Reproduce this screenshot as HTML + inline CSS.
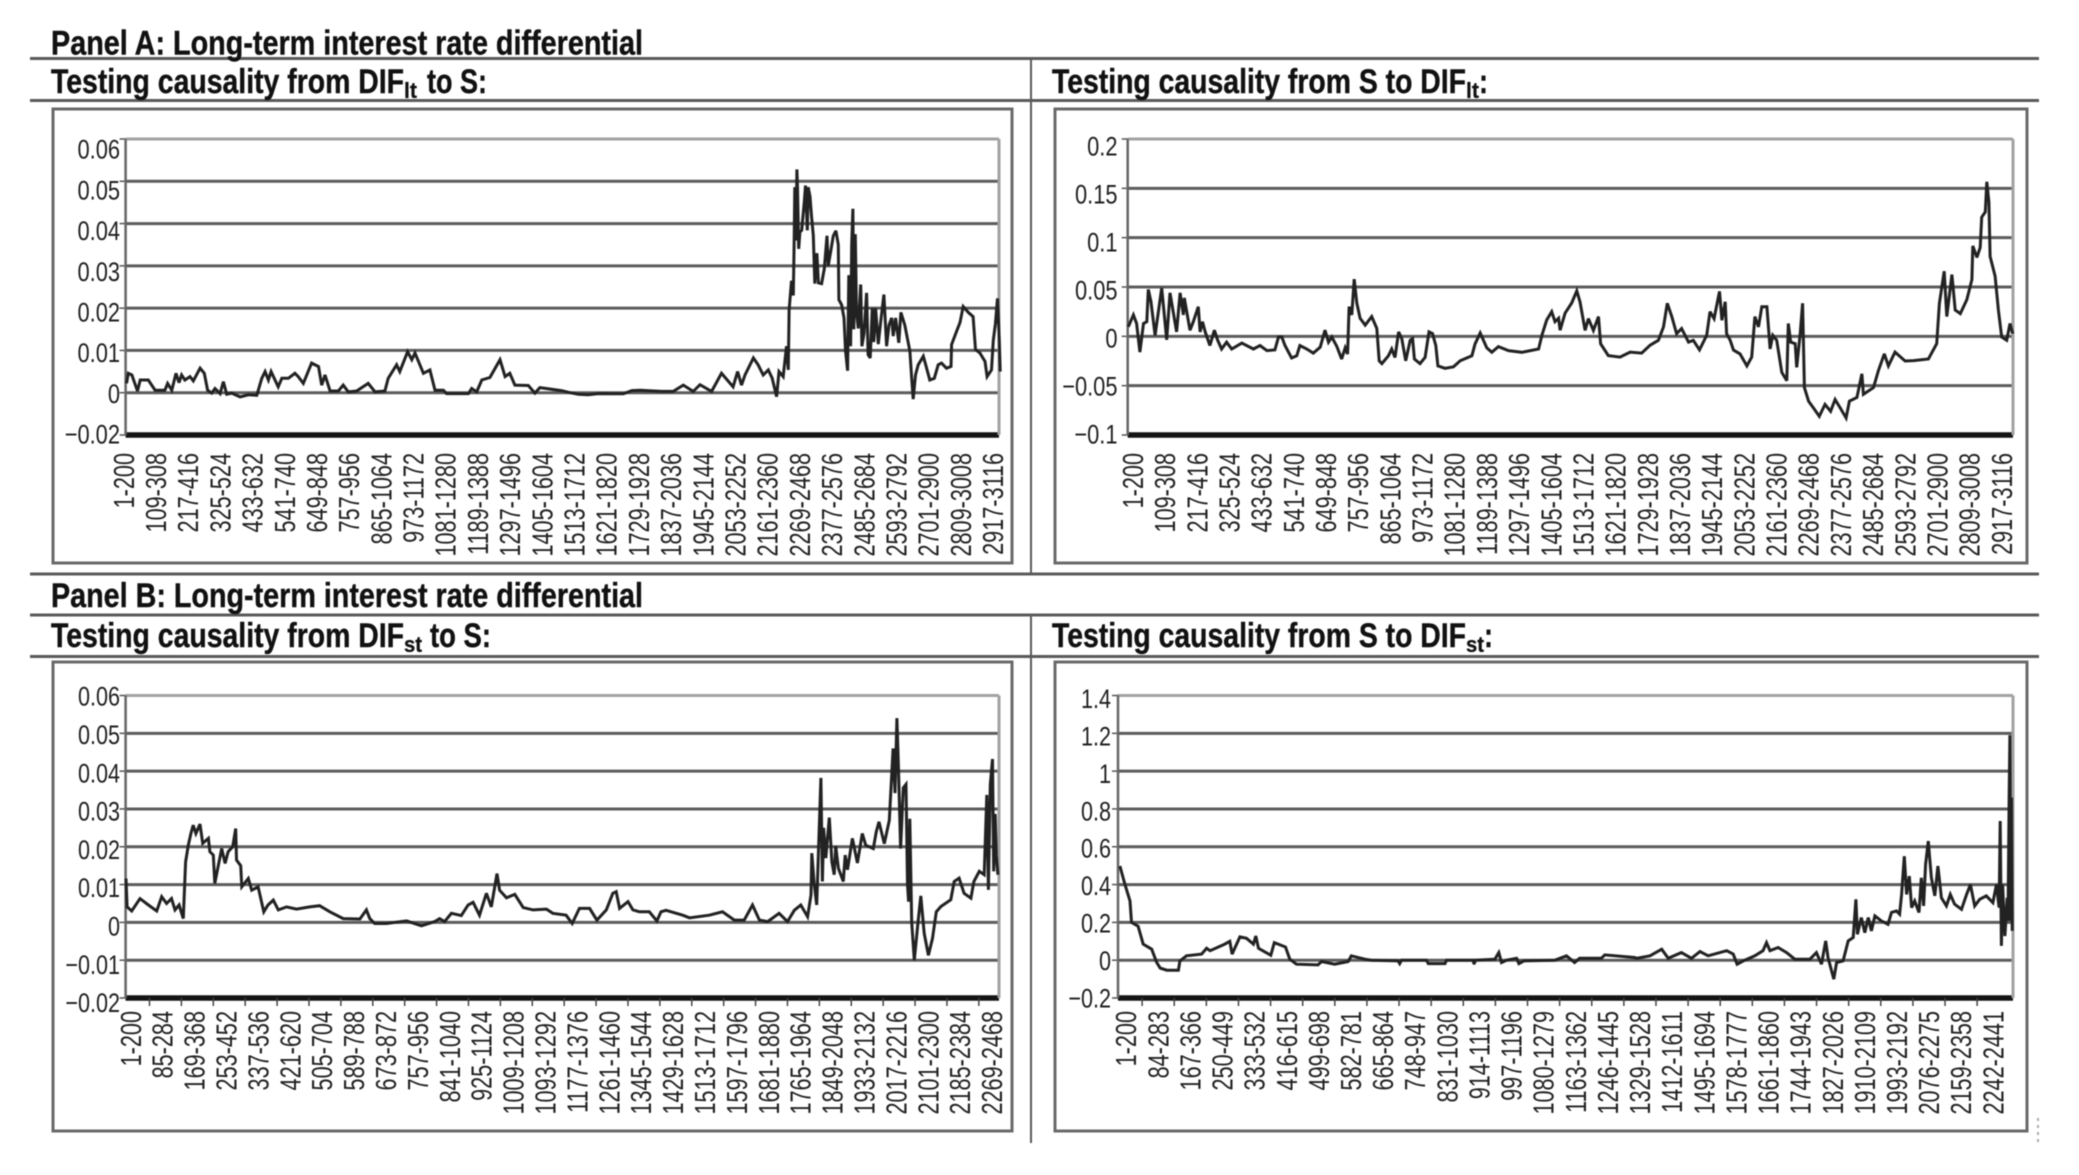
<!DOCTYPE html>
<html lang="en">
<head>
<meta charset="utf-8">
<title>Testing causality charts</title>
<style>
html,body{margin:0;padding:0;background:#fff;width:2079px;height:1175px;overflow:hidden}
svg{display:block;filter:blur(0.5px)}
.ttl{font-family:"Liberation Sans",sans-serif;font-weight:700;font-size:34px;fill:#111;stroke:#111;stroke-width:.4}
.sub{font-family:"Liberation Sans",sans-serif;font-weight:700;font-size:22px;fill:#111;stroke:#111;stroke-width:.3}
.ytick{font-family:"Liberation Sans",sans-serif;fill:#1f1f1f}
.xtick{font-family:"Liberation Sans",sans-serif;font-size:28.5px;fill:#222}
</style>
</head>
<body>
<svg id="figure" xmlns="http://www.w3.org/2000/svg" width="2079" height="1175" viewBox="0 0 2079 1175">
  <rect x="0" y="0" width="2079" height="1175" fill="#fff"/>

  <g stroke="#5a5a5a" stroke-width="3" fill="none">
    <line x1="30" y1="58.5" x2="2039" y2="58.5"/>
    <line x1="30" y1="100.5" x2="2039" y2="100.5"/>
    <line x1="30" y1="574" x2="2039" y2="574"/>
    <line x1="30" y1="615" x2="2039" y2="615"/>
    <line x1="30" y1="656.5" x2="2039" y2="656.5"/>
    <line x1="1031" y1="58" x2="1031" y2="574" stroke-width="2"/>
    <line x1="1031" y1="615" x2="1031" y2="1143" stroke-width="2"/>
    <line x1="2038" y1="1118" x2="2038" y2="1142" stroke="#aaa" stroke-width="2" stroke-dasharray="3 4"/>
  </g>

  <text class="ttl" x="51" y="54.5" textLength="592" lengthAdjust="spacingAndGlyphs">Panel A: Long-term interest rate differential</text>
  <text class="ttl" x="51" y="607" textLength="592" lengthAdjust="spacingAndGlyphs">Panel B: Long-term interest rate differential</text>

  <g>
    <text class="ttl" x="51" y="93" textLength="353" lengthAdjust="spacingAndGlyphs">Testing causality from DIF</text>
    <text class="sub" x="404" y="98" textLength="13" lengthAdjust="spacingAndGlyphs">lt</text>
    <text class="ttl" x="427" y="93" textLength="60" lengthAdjust="spacingAndGlyphs">to S:</text>
  </g>
  <g>
    <text class="ttl" x="1052" y="93" textLength="414" lengthAdjust="spacingAndGlyphs">Testing causality from S to DIF</text>
    <text class="sub" x="1466" y="98" textLength="13" lengthAdjust="spacingAndGlyphs">lt</text>
    <text class="ttl" x="1479" y="93" textLength="9" lengthAdjust="spacingAndGlyphs">:</text>
  </g>
  <g>
    <text class="ttl" x="51" y="647" textLength="353" lengthAdjust="spacingAndGlyphs">Testing causality from DIF</text>
    <text class="sub" x="404" y="652" textLength="18" lengthAdjust="spacingAndGlyphs">st</text>
    <text class="ttl" x="430" y="647" textLength="61" lengthAdjust="spacingAndGlyphs">to S:</text>
  </g>
  <g>
    <text class="ttl" x="1052" y="647" textLength="414" lengthAdjust="spacingAndGlyphs">Testing causality from S to DIF</text>
    <text class="sub" x="1466" y="652" textLength="18" lengthAdjust="spacingAndGlyphs">st</text>
    <text class="ttl" x="1484" y="647" textLength="9" lengthAdjust="spacingAndGlyphs">:</text>
  </g>

  <g id="charts"></g>
</svg>

<script>
// ---- Chart A left: DIF_lt to S ----
const aLeftCategories = ["1-200","109-308","217-416","325-524","433-632","541-740","649-848","757-956","865-1064","973-1172","1081-1280","1189-1388","1297-1496","1405-1604","1513-1712","1621-1820","1729-1928","1837-2036","1945-2144","2053-2252","2161-2360","2269-2468","2377-2576","2485-2684","2593-2792","2701-2900","2809-3008","2917-3116"];
const aLeftCategoryStarts = [1,109,217,325,433,541,649,757,865,973,1081,1189,1297,1405,1513,1621,1729,1837,1945,2053,2161,2269,2377,2485,2593,2701,2809,2917];
const aLeftTickValues = [-0.02,0,0.01,0.02,0.03,0.04,0.05,0.06];
const aLeftTickLabels = ["\u22120.02","0","0.01","0.02","0.03","0.04","0.05","0.06"];
const aLeftObs = [4,10,22,30,41,50,77,100,133,142,156,170,180,189,200,217,228,251,265,276,290,301,318,329,340,357,385,413,441,458,469,480,489,513,525,547,569,580,597,625,648,659,670,687,715,731,748,776,815,838,871,882,910,921,947,961,972,1000,1022,1039,1067,1078,1151,1162,1179,1196,1223,1257,1274,1290,1307,1352,1374,1391,1463,1492,1520,1553,1587,1643,1671,1699,1727,
1799,1838,1872,1905,1928,1967,2000,2039,2054,2067,2079,2107,2123,2140,2157,2170,2185,2193,2207,2218,2224,2227,2235,2241,2244,2246,2250,2253,2255,2259,2263,2269,2278,2282,2288,2291,2297,2302,2308,
2313,2320,2325,2336,2345,2354,2358,2367,2375,2384,2392,2394,2403,2411,2416,2423,2427,2433,2437,2441,2444,2449,2453,2459,2467,2471,2478,2487,2492,2499,2506,2511,2517,2526,2534,2545,2554,2562,2571,2576,2584,2595,2602,2615,2626,2632,2638,2643,2651,2660,2677,2685,2699,2714,2727,2738,2755,2770,2772,2789,2800,2811,2828,2844,2852,2867,2884,2891,2906,2912,2919,2926,2932,2935];
const aLeftValues = [.0022,.0046,.0042,.0026,.0004,.003,.003,.0006,.0006,.0022,.0006,.0046,.0024,.0042,.003,.0038,.0028,.0058,.0046,.0006,-.0002,.001,-.0004,.0026,-.0007,-.0002,-.002,-.001,-.0012,.0034,.005,.003,.005,.0014,.0034,.0034,.0046,.0038,.0022,.007,.0062,.0018,.0042,.0004,.0004,.0018,.0002,.0004,.0022,.0002,.0004,.0034,.0066,.005,.0097,.0078,.0094,.0046,.0054,.0006,.0006,-.0004,-.0004,.001,.0002,.003,.0036,.0078,.0038,.0046,.0018,.0017,-.0002,.0012,.0005,0,-.0007,-.001,-.0004,-.0005,-.0005,.0005,.0006,
.0003,.0003,.0018,.0003,.0019,.0003,.0046,.0014,.005,.0018,.0042,.0082,.0066,.0042,.0054,.0034,-.0019,.005,.0038,.011,.0054,.0195,.0265,.023,.0365,.0486,.036,.0528,.0486,.034,.038,.0384,.0452,.049,.0384,.0486,.0464,.0418,.0372,
.0258,.033,.026,.0258,.0293,.0371,.03,.0337,.0371,.0383,.035,.022,.0208,.0177,.01,.0052,.0278,.011,.035,.0435,.015,.0375,.019,.0152,.0256,.011,.014,.0236,.009,.0082,.02,.012,.02,.0115,.0168,.0232,.011,.016,.0177,.0134,.0177,.0118,.019,.016,.012,.0098,.0034,-.003,.0042,.0066,.0086,.0066,.003,.0034,.0066,.007,.0058,.0062,.0114,.0146,.0166,.0204,.019,.018,.0102,.0094,.0074,.0038,.0054,.0124,.0163,.0223,.0124,.005];

// ---- Chart A right: S to DIF_lt ----
const aRightCategories = ["1-200","109-308","217-416","325-524","433-632","541-740","649-848","757-956","865-1064","973-1172","1081-1280","1189-1388","1297-1496","1405-1604","1513-1712","1621-1820","1729-1928","1837-2036","1945-2144","2053-2252","2161-2360","2269-2468","2377-2576","2485-2684","2593-2792","2701-2900","2809-3008","2917-3116"];
const aRightCategoryStarts = [1,109,217,325,433,541,649,757,865,973,1081,1189,1297,1405,1513,1621,1729,1837,1945,2053,2161,2269,2377,2485,2593,2701,2809,2917];
const aRightTickValues = [-0.1,-0.05,0,0.05,0.1,0.15,0.2];
const aRightTickLabels = ["\u22120.1","\u22120.05","0","0.05","0.1","0.15","0.2"];
const aRightObs = [3,20,31,42,54,65,70,79,93,115,132,143,165,177,188,191,210,221,238,244,252,261,277,292,303,316,333,350,384,423,445,468,495,507,518,529,551,568,579,602,624,647,663,675,686,703,719,731,739,744,753,761,770,781,798,820,837,845,854,876,887,898,910,921,934,949,957,963,982,999,1012,1024,1035,1042,1066,1094,1117,1156,1167,1184,1206,1223,1245,1279,1324,1380,1391,1407,1424,1435,1447,1452,1469,1491,1508,1519,
1536,1547,1564,1581,1588,1614,1653,1687,1726,1754,1782,1799,1812,1827,1843,1860,1883,1899,1920,1944,1955,1969,1987,1995,2006,2011,2023,2034,2056,2079,2095,2106,2118,2129,2146,2157,2166,2179,2196,2213,2218,2226,2241,2246,2258,2266,2272,2286,2302,2322,2341,2360,2375,2392,2412,2423,2448,2465,2470,2504,2520,2540,2554,2576,2610,2638,2688,2716,2725,2741,2750,2767,2778,2795,2817,2834,2837,2851,2862,2867,2879,2884,2891,2895,2912,2923,2934,2951,2962,2971];
const aRightValues = [.0097,.0217,.013,-.016,.013,.0148,.0476,.0355,.001,.049,-.0035,.044,.0045,.044,.0217,.039,.0062,.0148,.03,.0045,.0148,.0045,-.0093,.0062,-.004,-.0128,-.0059,-.0128,-.0069,-.0128,-.0093,-.0145,-.0138,-.0007,-.0007,-.0093,-.022,-.0197,-.0093,-.0128,-.017,-.011,.0062,-.0059,-.0007,-.0104,-.023,-.0117,-.018,.03,.0217,.058,.0338,.0183,.0114,.02,.008,-.0248,-.0276,-.0197,-.0128,-.0214,.0045,-.0024,-.0248,-.004,-.0024,-.023,-.0276,-.0214,.0045,.0028,-.0093,-.03,-.0324,-.031,-.0248,-.0197,-.0076,.0034,-.0117,-.0162,-.0104,-.0145,-.0162,-.0128,.001,.0166,.025,.0148,.0183,.0062,.0235,.0338,.046,.035,
.006,.018,.006,.02,-.0075,-.0195,-.021,-.016,-.017,-.009,-.004,.0096,.0335,.02,.0027,.0079,-.0058,-.004,-.0137,.001,.025,.018,.0455,.0164,.035,.0027,-.004,-.014,-.0178,-.03,-.021,.02,.0096,.03,.03,-.0127,.001,-.004,-.0366,-.045,.013,-.0058,-.0075,-.0315,.0027,.0335,-.052,-.0657,-.0725,-.081,-.069,-.076,-.064,-.0725,-.0828,-.0657,-.062,-.038,-.0588,-.052,-.035,-.0178,-.03,-.016,-.025,-.0246,-.023,-.0075,.0335,.066,.02,.0626,.0267,.023,.037,.0575,.0917,.08,.09,.1207,.126,.1566,.136,.081,.061,.0267,-.0007,-.004,.013,.0027];

// ---- Chart B left: DIF_st to S ----
const bLeftCategories = ["1-200","85-284","169-368","253-452","337-536","421-620","505-704","589-788","673-872","757-956","841-1040","925-1124","1009-1208","1093-1292","1177-1376","1261-1460","1345-1544","1429-1628","1513-1712","1597-1796","1681-1880","1765-1964","1849-2048","1933-2132","2017-2216","2101-2300","2185-2384","2269-2468"];
const bLeftCategoryStarts = [1,85,169,253,337,421,505,589,673,757,841,925,1009,1093,1177,1261,1345,1429,1513,1597,1681,1765,1849,1933,2017,2101,2185,2269];
const bLeftTickValues = [-0.02,-0.01,0,0.01,0.02,0.03,0.04,0.05,0.06];
const bLeftTickLabels = ["\u22120.02","\u22120.01","0","0.01","0.02","0.03","0.04","0.05","0.06"];
const bLeftObs = [2,5,17,39,61,83,96,109,122,131,142,153,155,159,166,173,179,186,197,204,219,223,232,236,242,254,263,271,283,291,293,304,307,324,333,350,365,376,390,403,425,451,486,512,539,574,618,635,644,657,688,741,780,815,828,841,859,885,903,916,933,951,964,979,986,1004,1026,1048,1074,1109,1126,1161,1177,1196,1223,1242,1267,1284,1293,1302,1324,1337,
1354,1380,1400,1411,1424,1468,1486,1538,1573,1604,1630,1652,1670,1692,1722,1744,1762,1779,1797,1806,1808,1814,1821,1832,1836,1839,1845,1854,1861,1867,1871,1878,1891,1896,1902,1915,1928,1941,1950,1970,1978,1985,1999,2012,2016,2022,2027,2032,2036,2042,2049,2056,2060,2063,2066,2071,2078,2086,2095,2104,2115,2126,2136,2148,2174,2183,2196,2209,2227,2235,2249,2262,2269,2273,2278,2284,2287,2291,2294,2298];
const bLeftValues = [.0116,.0041,.003,.0063,.0046,.003,.0068,.005,.0063,.0033,.0046,.001,.0063,.016,.0204,.0235,.0257,.0235,.026,.0209,.0222,.0187,.0178,.0103,.0134,.0195,.0156,.0187,.02,.0248,.0165,.015,.0094,.0116,.0085,.0094,.0028,.0046,.0059,.0033,.0041,.0035,.0041,.0044,.0028,.001,.0009,.0033,.001,-.0003,-.0003,.0004,-.0009,.0002,.001,.0002,.0024,.0018,.0046,.0053,.0019,.0077,.0041,.0129,.0085,.0065,.0074,.0039,.0033,.0035,.0024,.0019,-.0003,.0037,.0037,.0006,.0033,.0077,.0081,.0037,.0055,.0033,
.0028,.0028,.0004,.0028,.0032,.0019,.0012,.0019,.0028,.0006,.0006,.0046,.0006,.0002,.0024,.0002,.0032,.0046,.0015,.0073,.0183,.0104,.0046,.0382,.0108,.025,.017,.0277,.016,.0126,.0202,.0143,.0108,.0178,.0139,.0222,.0157,.0235,.0204,.0195,.024,.0266,.0208,.027,.0345,.046,.0342,.054,.0415,.0195,.0356,.0365,.01,.0055,.0274,0,-.01,-.0016,.007,-.0029,-.0087,-.0042,.0028,.0042,.006,.0108,.0117,.0077,.0064,.0108,.0135,.0126,.0337,.0086,.0365,.0432,.0135,.0287,.0178,.0126];

// ---- Chart B right: S to DIF_st ----
const bRightCategories = ["1-200","84-283","167-366","250-449","333-532","416-615","499-698","582-781","665-864","748-947","831-1030","914-1113","997-1196","1080-1279","1163-1362","1246-1445","1329-1528","1412-1611","1495-1694","1578-1777","1661-1860","1744-1943","1827-2026","1910-2109","1993-2192","2076-2275","2159-2358","2242-2441"];
const bRightCategoryStarts = [1,84,167,250,333,416,499,582,665,748,831,914,997,1080,1163,1246,1329,1412,1495,1578,1661,1744,1827,1910,1993,2076,2159,2242];
const bRightTickValues = [-0.2,0,0.2,0.4,0.6,0.8,1,1.2,1.4];
const bRightTickLabels = ["\u22120.2","0","0.2","0.4","0.6","0.8","1","1.2","1.4"];
const bRightObs = [6,19,32,36,53,66,88,101,110,127,157,161,178,217,230,239,277,290,296,316,333,351,357,364,396,405,434,445,462,518,527,561,596,604,639,656,725,729,734,798,803,846,850,919,921,925,975,985,992,1005,1031,1037,1050,1130,1160,1181,1194,1250,1259,1336,
1341,1376,1406,1423,1457,1483,1505,1526,1574,1591,1601,1617,1647,1668,1677,1686,1707,1729,1750,1789,1806,1819,1830,1836,1851,1858,1875,1888,1901,1908,1912,1922,1931,1940,1948,1957,1974,1991,2000,2013,2021,2026,2033,2039,2046,2052,2060,2071,2077,2083,2088,2095,2099,2103,2112,2120,2129,2142,2152,2163,2181,2194,2204,2215,2228,2245,2262,2271,2278,2281,2284,2287,2293,2299,2301,2304,2306,2308,2310,2312];
const bRightValues = [.498,.40,.313,.2,.18,.085,.058,-.012,-.042,-.053,-.053,-.004,.023,.032,.063,.05,.085,.1,.032,.123,.116,.085,.128,.063,.026,.093,.07,.005,-.021,-.025,-.007,-.021,-.007,.023,.005,0,-.004,-.018,0,0,-.018,-.018,0,0,-.021,0,.005,.04,-.012,0,.01,-.018,-.004,0,.023,-.012,.01,.01,.028,.014,
.01,.023,.058,.01,.04,.01,.046,.023,.05,.032,-.021,-.004,.023,.05,.093,.05,.067,.04,.005,.005,.04,-.021,.102,.014,-.1,-.012,-.004,.102,.12,.322,.137,.225,.146,.225,.155,.234,.208,.19,.252,.26,.243,.348,.55,.348,.445,.278,.313,.252,.436,.287,.507,.63,.533,.436,.34,.498,.33,.287,.348,.296,.269,.348,.40,.287,.322,.34,.304,.40,.278,.736,.076,.40,.128,.33,.208,.84,1.19,.208,.86,.155];

const SVG_NS = 'http://www.w3.org/2000/svg';
const root = document.getElementById('charts');

function make(tag, parent, attrs) {
  const el = document.createElementNS(SVG_NS, tag);
  for (const k in attrs) el.setAttribute(k, attrs[k]);
  parent.appendChild(el);
  return el;
}

function drawChart(c) {
  const g = make('g', root, {});
  
  

  // axis functions
  const xScale = function (obs) {
    return c.left + (obs - 1) / c.obsMax * (c.right - c.left);
  };
  const yScale = function (v) {
    const t = c.tickValues;
    const stepPx = (c.bottom - c.top) / (t.length - 1);
    let i = 0;
    while (i < t.length - 2 && v > t[i + 1]) i++;
    return c.bottom - (i + (v - t[i]) / (t[i + 1] - t[i])) * stepPx;
  };

  const frame = make('rect', g, {x: c.fx1, y: c.fy1, width: c.fx2 - c.fx1, height: c.fy2 - c.fy1, fill: 'none', stroke: '#6a6a6a', 'stroke-width': 3});
  
  

  // gridlines, y tick labels
  c.tickValues.forEach(function (tv, i) {
    const y = yScale(tv);
    const isTop = i === c.tickValues.length - 1;
    const isBottom = i === 0;
    const line = make('line', g, {
      x1: c.left, x2: c.right, y1: y, y2: y,
      stroke: isBottom ? '#141414' : (isTop ? '#a2a2a2' : '#5c5c5c'),
      'stroke-width': isBottom ? 5.5 : 3
    });
    
    

    const mark = make('line', g, {x1: c.left - 6, x2: c.left, y1: y, y2: y, stroke: '#555', 'stroke-width': 1.5});
    
    

    const labelY = c.labelBottom - i * (c.labelBottom - c.labelTop) / (c.tickValues.length - 1) + c.yFont * 0.358;
    const label = make('text', g, {
      class: 'ytick',
      transform: 'translate(' + c.labelRight + ',' + labelY + ') scale(' + c.yScaleX + ',1)',
      'text-anchor': 'end',
      'font-size': c.yFont
    });
    
    
    label.textContent = c.tickLabels[i];
  });

  const leftAxis = make('line', g, {x1: c.left, x2: c.left, y1: c.top, y2: c.bottom, stroke: '#666', 'stroke-width': 2.5});
  
  
  const rightAxis = make('line', g, {x1: c.right, x2: c.right, y1: c.top, y2: c.bottom, stroke: '#a2a2a2', 'stroke-width': 3});
  
  

  // x tick labels
  c.categories.forEach(function (cat, i) {
    const cx = xScale(c.categoryStarts[i]) + c.labelOffset;
    const label = make('text', g, {
      class: 'xtick',
      transform: 'translate(' + (cx + 10.2) + ',' + c.xLabelTop + ') rotate(-90) scale(0.76,1)',
      'text-anchor': 'end'
    });
    
    
    label.textContent = cat;
    if (c.xTickLen) {
      const mx = xScale(c.categoryStarts[i]) - 8;
      if (mx > c.left) {
        const tick = make('line', g, {x1: mx, x2: mx, y1: c.bottom, y2: c.bottom + c.xTickLen, stroke: '#444', 'stroke-width': 1.5});
        
        
      }
    }
  });

  // series line
  let d = '';
  const n = Math.min(c.obs.length, c.values.length);
  for (let i = 0; i < n; i++) {
    d += (i ? 'L' : 'M') + xScale(c.obs[i]).toFixed(1) + ' ' + yScale(c.values[i]).toFixed(1);
  }
  const path = make('path', g, {d: d, fill: 'none', stroke: '#222', 'stroke-width': 3, 'stroke-linejoin': 'miter', 'stroke-miterlimit': 3});
  
  
}

drawChart({name: 'chart-a-left', categories: aLeftCategories, categoryStarts: aLeftCategoryStarts, tickValues: aLeftTickValues, tickLabels: aLeftTickLabels, obs: aLeftObs, values: aLeftValues,
  left: 125.6, right: 999, top: 139, bottom: 435, obsMax: 2930, fx1: 53, fx2: 1012, fy1: 109, fy2: 563,
  labelRight: 120, labelTop: 149, labelBottom: 434, yFont: 27, yScaleX: 0.81, labelOffset: -2, xLabelTop: 453, xTickLen: 0});
drawChart({name: 'chart-a-right', categories: aRightCategories, categoryStarts: aRightCategoryStarts, tickValues: aRightTickValues, tickLabels: aRightTickLabels, obs: aRightObs, values: aRightValues,
  left: 1127.7, right: 2013, top: 139, bottom: 435, obsMax: 2971, fx1: 1055, fx2: 2027, fy1: 109, fy2: 563,
  labelRight: 1117.5, labelTop: 146, labelBottom: 434, yFont: 27, yScaleX: 0.81, labelOffset: 5, xLabelTop: 453, xTickLen: 0});
drawChart({name: 'chart-b-left', categories: bLeftCategories, categoryStarts: bLeftCategoryStarts, tickValues: bLeftTickValues, tickLabels: bLeftTickLabels, obs: bLeftObs, values: bLeftValues,
  left: 125.6, right: 999, top: 695.5, bottom: 998, obsMax: 2300, fx1: 53, fx2: 1012, fy1: 662, fy2: 1131,
  labelRight: 120, labelTop: 696, labelBottom: 1002.5, yFont: 27, yScaleX: 0.8, labelOffset: 5, xLabelTop: 1011, xTickLen: 8});
drawChart({name: 'chart-b-right', categories: bRightCategories, categoryStarts: bRightCategoryStarts, tickValues: bRightTickValues, tickLabels: bRightTickLabels, obs: bRightObs, values: bRightValues,
  left: 1118, right: 2013, top: 695.5, bottom: 998, obsMax: 2313, fx1: 1055, fx2: 2027, fy1: 662, fy2: 1131,
  labelRight: 1111, labelTop: 698.5, labelBottom: 997.6, yFont: 27, yScaleX: 0.8, labelOffset: 8, xLabelTop: 1011, xTickLen: 8});
</script>
</body>
</html>
